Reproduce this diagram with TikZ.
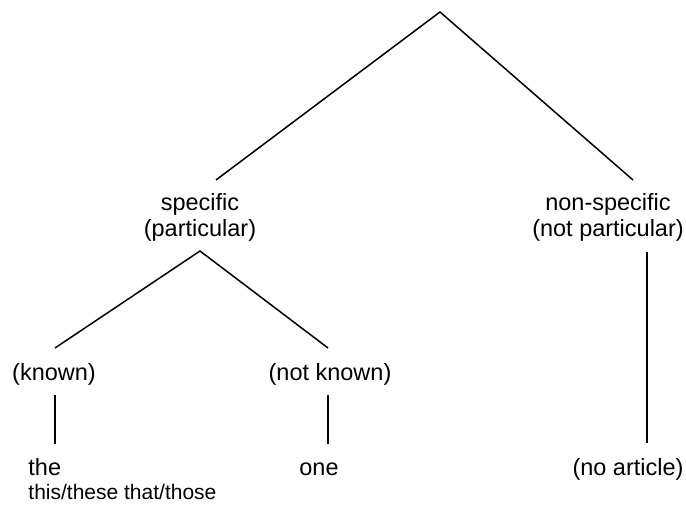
\documentclass[tikz,border=0pt]{standalone}
\usepackage{fontspec}
\setmainfont{Liberation Sans}
\usetikzlibrary{positioning}

\begin{document}
\begin{tikzpicture}[x=1pt,y=1pt,line width=1.5pt,
            every node/.style={inner sep=0pt},
            lbl/.style={font=\fontsize{23.5}{26}\selectfont,align=center},
            smalllbl/.style={font=\fontsize{21}{23}\selectfont}]
            \useasboundingbox (0,0) rectangle (686,506);
            % branch points and line ends
            \coordinate (top) at (440,494);
            \coordinate (spec-in) at (216,326);
            \coordinate (nonspec-in) at (633,326);
            \coordinate (spec-out) at (200,255);
            \coordinate (known-in) at (55,158);
            \coordinate (notknown-in) at (328,158);
            \coordinate (known-out) at (55,111);
            \coordinate (the-in) at (55,62);
            \coordinate (notknown-out) at (328,111);
            \coordinate (one-in) at (328,62);
            \coordinate (nonspec-out) at (647,254);
            \coordinate (noart-in) at (647,63);
            % labels
            \node[lbl,anchor=base] (spec) at (200,269){specific\\(particular)};
            \node[lbl,anchor=base] (nonspec) at (608,269){non-specific\\(not particular)};
            \node[lbl,anchor=base] (known) at (54,125){(known)};
            \node[lbl,anchor=base] (notknown) at (330,125){(not known)};
            \node[lbl,anchor=base west] (the) at (27.7,30){the};
            \node[smalllbl,anchor=base west] (thethis) at (27.7,6){this/these that/those};
            \node[lbl,anchor=base] (one) at (319,30){one};
            \node[lbl,anchor=base] (noart) at (628,30){(no article)};
            % lines
            \draw (spec-in)--(top)--(nonspec-in);
            \draw (known-in)--(spec-out)--(notknown-in);
            \draw (known-out)--(the-in);
            \draw (notknown-out)--(one-in);
            \draw (nonspec-out)--(noart-in);
\end{tikzpicture}
\end{document}
